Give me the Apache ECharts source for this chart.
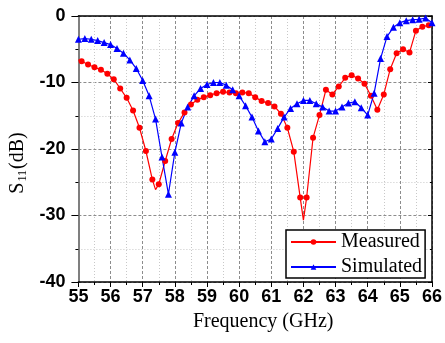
<!DOCTYPE html>
<html>
<head>
<meta charset="utf-8">
<script src="https://cdn.jsdelivr.net/npm/echarts@6/dist/echarts.min.js"></script>
<style>
  html, body { margin: 0; padding: 0; background: #fff; }
  #chart { width: 445px; height: 343px; }
</style>
</head>
<body>
<div id="chart"></div>
<script>
// measured: markers on odd tenths, even-tenth entries are line-only vertices
const measuredFreq = [55.0, 55.1, 55.3, 55.5, 55.7, 55.9, 56.1, 56.3, 56.5, 56.7, 56.9,
  57.1, 57.3, 57.4, 57.5, 57.7, 57.9, 58.1, 58.3, 58.5, 58.7, 58.9, 59.1, 59.3, 59.5, 59.7, 59.9,
  60.1, 60.3, 60.5, 60.7, 60.9, 61.1, 61.3, 61.5, 61.7, 61.9, 62.0, 62.1, 62.3, 62.5, 62.7, 62.9,
  63.1, 63.3, 63.5, 63.7, 63.9, 64.1, 64.3, 64.5, 64.7, 64.9, 65.1, 65.3, 65.5, 65.7, 65.9, 66.0];
const measuredS11 = [-6.6, -6.8, -7.3, -7.7, -8.1, -8.7, -9.5, -10.9, -12.3, -14.2, -16.8,
  -20.3, -24.6, -26.1, -25.3, -21.8, -18.5, -16.1, -14.5, -13.3, -12.6, -12.2, -11.9, -11.6, -11.4, -11.5, -11.6,
  -11.5, -11.6, -12.2, -12.8, -13.1, -13.6, -14.7, -16.8, -20.4, -27.3, -30.7, -27.3, -18.3, -14.9, -11.1, -11.8,
  -10.6, -9.3, -8.9, -9.4, -10.2, -12.0, -14.1, -11.8, -8.0, -5.6, -5.0, -5.5, -2.2, -1.6, -1.4, -1.3];

const simulatedFreq = [55.0, 55.2, 55.4, 55.6, 55.8, 56.0, 56.2, 56.4, 56.6, 56.8, 57.0,
  57.2, 57.4, 57.6, 57.8, 58.0, 58.2, 58.4, 58.6, 58.8, 59.0, 59.2, 59.4, 59.6, 59.8, 60.0,
  60.2, 60.4, 60.6, 60.8, 61.0, 61.2, 61.4, 61.6, 61.8, 62.0, 62.2, 62.4, 62.6, 62.8, 63.0,
  63.2, 63.4, 63.6, 63.8, 64.0, 64.2, 64.4, 64.6, 64.8, 65.0, 65.2, 65.4, 65.6, 65.8, 66.0];
const simulatedS11 = [-3.5, -3.4, -3.5, -3.7, -4.0, -4.3, -4.9, -5.6, -6.6, -7.9, -9.7,
  -12.0, -15.5, -21.2, -26.8, -20.5, -16.1, -13.7, -12.0, -10.9, -10.3, -10.0, -10.0, -10.4, -11.1, -12.0,
  -13.5, -15.2, -17.3, -18.9, -18.5, -16.9, -15.2, -13.9, -13.2, -12.7, -12.7, -13.2, -13.7, -14.3, -14.3,
  -13.7, -13.1, -12.9, -13.8, -14.9, -11.6, -6.4, -3.1, -1.7, -1.0, -0.7, -0.55, -0.5, -0.3, -1.0];

const seriesNames = ['Measured', 'Simulated'];

const sansBold = { fontFamily: 'Liberation Sans', fontWeight: 'bold', fontSize: 18, color: '#000' };
const serif = 'Liberation Serif';

const majorGrid = { show: true, lineStyle: { color: '#8c8c8c', type: [3, 2], width: 1 } };
const minorGrid = { show: true, lineStyle: { color: '#c8c8c8', type: [1, 2], width: 1 } };

const chart = echarts.init(document.getElementById('chart'), null, { renderer: 'canvas' });

chart.setOption({
  animation: false,
  backgroundColor: '#fff',
  grid: { left: 76, right: 12, top: 16, bottom: 61 },
  legend: {
    orient: 'vertical',
    left: 286,
    top: 230,
    padding: [2, 3, 1, 4],
    itemGap: 5,
    itemWidth: 45,
    itemHeight: 7,
    borderColor: '#000',
    borderWidth: 1.5,
    backgroundColor: '#fff',
    textStyle: { fontFamily: serif, fontSize: 20, color: '#000' },
    data: seriesNames,
  },
  xAxis: [
    {
      type: 'value',
      min: 55,
      max: 66,
      interval: 1,
      position: 'bottom',
      axisLine: { show: true, onZero: false, lineStyle: { color: '#000', width: 1.5 } },
      axisTick: { show: true, inside: false, length: 5, lineStyle: { color: '#000' } },
      minorTick: { show: true, splitNumber: 2, length: 3, lineStyle: { color: '#000' } },
      axisLabel: { margin: 6, ...sansBold },
      splitLine: majorGrid,
      minorSplitLine: minorGrid,
      name: 'Frequency (GHz)',
      nameLocation: 'middle',
      nameGap: 30,
      nameTextStyle: { fontFamily: serif, fontSize: 20, color: '#000', padding: [0, 0, 0, 16] },
    },
    {
      type: 'value',
      min: 55,
      max: 66,
      position: 'top',
      axisLine: { show: true, onZero: false, lineStyle: { color: '#000', width: 1.5 } },
      axisTick: { show: false },
      axisLabel: { show: false },
      splitLine: { show: false },
    },
  ],
  yAxis: [
    {
      type: 'value',
      min: -40,
      max: 0,
      interval: 10,
      position: 'left',
      axisLine: { show: true, onZero: false, lineStyle: { color: '#7f7f7f', width: 2 } },
      axisTick: { show: true, inside: false, length: 7, lineStyle: { color: '#000' } },
      minorTick: { show: true, splitNumber: 2, length: 3, lineStyle: { color: '#000' } },
      axisLabel: { margin: 13, ...sansBold },
      splitLine: majorGrid,
      minorSplitLine: minorGrid,
      name: '{s|S}{sub|11}{s|(dB)}',
      nameLocation: 'middle',
      nameGap: 43,
      nameTextStyle: {
        padding: [0, 28, 0, 0],
        rich: {
          s: { fontFamily: serif, fontSize: 20, color: '#000' },
          sub: { fontFamily: serif, fontSize: 12, color: '#000', padding: [9, 1, 0, 1] },
        },
      },
    },
    {
      type: 'value',
      min: -40,
      max: 0,
      interval: 10,
      position: 'right',
      axisLine: { show: true, onZero: false, lineStyle: { color: '#000', width: 1.5 } },
      axisTick: { show: true, inside: true, length: 4, lineStyle: { color: '#000' } },
      minorTick: { show: true, splitNumber: 2, length: 2, lineStyle: { color: '#000' } },
      axisLabel: { show: false },
      splitLine: { show: false },
    },
  ],
  series: [
    {
      name: seriesNames[0],
      type: 'line',
      xAxisIndex: 0,
      yAxisIndex: 0,
      symbol: 'circle',
      symbolSize: 6,
      color: '#ff0000',
      lineStyle: { color: '#ff0000', width: 1.2 },
      itemStyle: { color: '#ff0000' },
      data: measuredFreq.map((f, i) =>
        Math.round(f * 10) % 2 === 1
          ? [f, measuredS11[i]]
          : { value: [f, measuredS11[i]], symbol: 'none' }
      ),
    },
    {
      name: seriesNames[1],
      type: 'line',
      xAxisIndex: 0,
      yAxisIndex: 0,
      symbol: 'triangle',
      symbolSize: 7,
      color: '#0000ff',
      lineStyle: { color: '#0000ff', width: 1.2 },
      itemStyle: { color: '#0000ff' },
      data: simulatedFreq.map((f, i) => [f, simulatedS11[i]]),
    },
  ],
});
</script>
</body>
</html>
